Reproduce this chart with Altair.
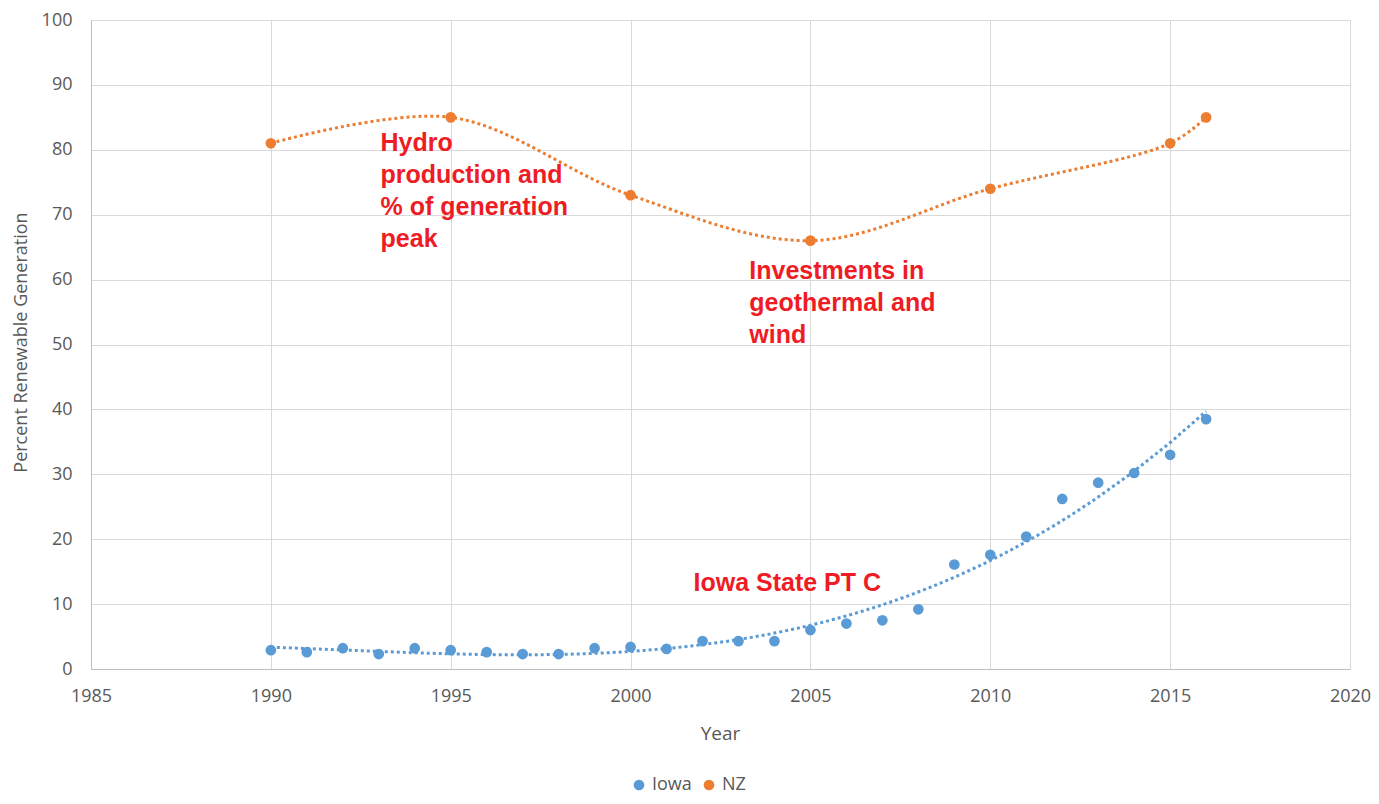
import altair as alt
import pandas as pd

# ---- data ----
iowa_years = list(range(1990, 2017))
iowa_values = [2.9, 2.6, 3.2, 2.3, 3.2, 2.9, 2.6, 2.3, 2.3, 3.2, 3.4, 3.1, 4.3, 4.3, 4.3,
               6.0, 7.0, 7.5, 9.2, 16.1, 17.6, 20.4, 26.2, 28.7, 30.2, 33.0, 38.5]
nz_years = [1990, 1995, 2000, 2005, 2010, 2015, 2016]
nz_values = [81, 85, 73, 66, 74, 81, 85]

series_names = ["Iowa", "NZ"]
series_colors = ["#5b9bd5", "#ed7d31"]

x_ticks = [1985, 1990, 1995, 2000, 2005, 2010, 2015, 2020]
y_ticks = [0, 10, 20, 30, 40, 50, 60, 70, 80, 90, 100]

annotation_texts = ["Hydro\nproduction and\n% of generation\npeak",
                    "Investments in\ngeothermal and\nwind",
                    "Iowa State PT C"]
annotation_x = [1993.05, 2003.3, 2001.75]
annotation_y = [81.1, 61.3, 13.3]

df = pd.DataFrame({
    "Year": iowa_years + nz_years,
    "Value": iowa_values + nz_values,
    "Series": ["Iowa"] * len(iowa_years) + ["NZ"] * len(nz_years),
})
ann_df = pd.DataFrame({"x": annotation_x, "y": annotation_y, "text": annotation_texts})

GRAY = "#595959"
FONT = "Open Sans"

x_enc = alt.X("Year:Q",
              scale=alt.Scale(domain=[1985, 2020], nice=False, zero=False),
              axis=alt.Axis(values=x_ticks, format="d", title="Year",
                            labelFont=FONT, labelFontSize=18, labelColor=GRAY,
                            labelPadding=18, ticks=False, labelFlush=False,
                            labelOverlap=False,
                            domainColor="#bfbfbf", gridColor="#d9d9d9",
                            titleFont=FONT, titleFontSize=19, titleColor=GRAY,
                            titleFontWeight="normal", titleX=629, titleY=64,
                            titleBaseline="middle"))
y_enc = alt.Y("Value:Q",
              scale=alt.Scale(domain=[0, 100], nice=False),
              axis=alt.Axis(values=y_ticks, title="Percent Renewable Generation",
                            labelFont=FONT, labelFontSize=18, labelColor=GRAY,
                            labelPadding=19, ticks=False, labelFlush=False,
                            domainColor="#bfbfbf", gridColor="#d9d9d9",
                            titleFont=FONT, titleFontSize=18, titleColor=GRAY,
                            titleFontWeight="normal", titleX=-70, titleY=322,
                            titleAngle=270, titleBaseline="middle"))

color_enc = alt.Color("Series:N",
                      scale=alt.Scale(domain=series_names, range=series_colors),
                      legend=alt.Legend(title=None, orient="none", legendX=539, legendY=756,
                                        direction="horizontal", symbolType="circle",
                                        symbolSize=115, labelFont=FONT, labelFontSize=18,
                                        labelColor=GRAY, columnPadding=8, labelOffset=4))

base = alt.Chart(df)

nz_line = base.transform_filter(alt.datum.Series == "NZ").mark_line(
    interpolate="catmull-rom", strokeDash=[3, 3], strokeWidth=3, color=series_colors[1]
).encode(x=x_enc, y=y_enc)

iowa_trend = base.transform_filter(alt.datum.Series == "Iowa").transform_regression(
    "Year", "Value", method="poly", order=3
).mark_line(strokeDash=[3, 3], strokeWidth=3, color=series_colors[0]).encode(x=x_enc, y=y_enc)

points = base.mark_point(filled=True, size=115, opacity=1).encode(x=x_enc, y=y_enc, color=color_enc)

annotations = alt.Chart(ann_df).mark_text(
    align="left", baseline="middle", lineBreak="\n", font="Liberation Sans",
    fontWeight="bold", fontSize=25, lineHeight=32, color="#ee1c24"
).encode(x="x:Q", y="y:Q", text="text:N")

chart = alt.layer(nz_line, iowa_trend, points, annotations).properties(
    width=1259, height=649, autosize="none",
    padding={"left": 83, "top": 12, "right": 21, "bottom": 127},
).configure_view(strokeWidth=0)

chart.save("out.html", embed_options={"renderer": "svg", "actions": False})
